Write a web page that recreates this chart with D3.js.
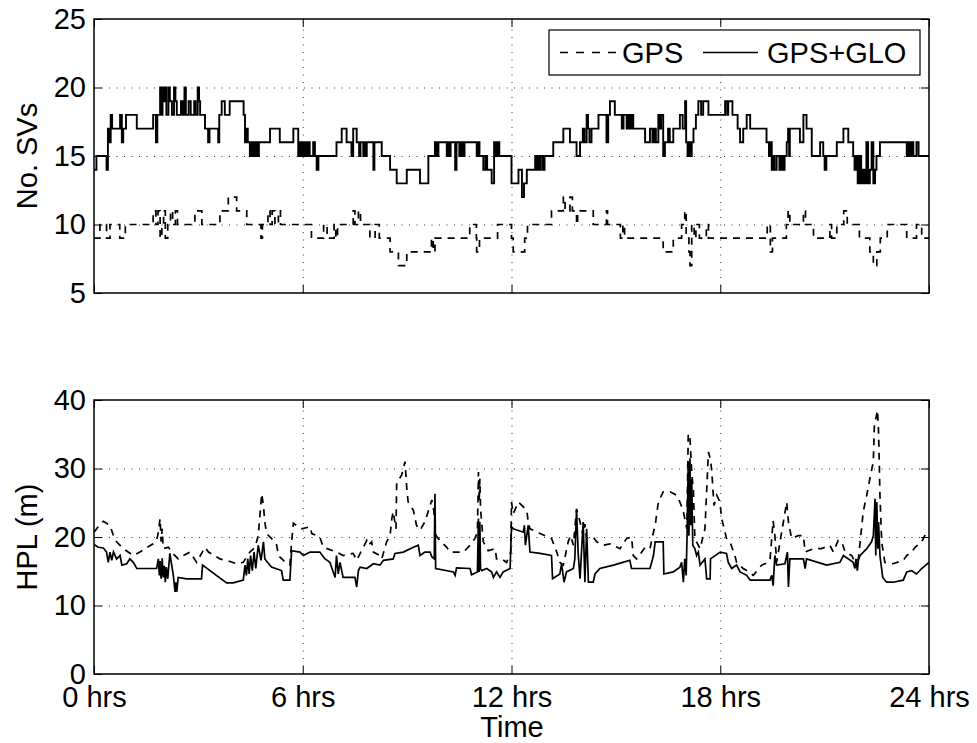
<!DOCTYPE html>
<html>
<head>
<meta charset="utf-8">
<script src="https://cdn.jsdelivr.net/npm/d3@7"></script>
<style>
  body { margin: 0; background: #fff; }
  svg text { font-family: "Liberation Sans", Arial, Helvetica, sans-serif; fill: #000; }
</style>
</head>
<body>
<script>
// satellites visible, step data [hours, count]
var svsGps = [[0,9],[0.17,10],[0.36,9],[0.46,10],[0.74,9],[0.9,10],[1.7,11],[1.78,10],[1.84,11],[1.9,9],[1.95,10],[2.0,11],[2.05,9],[2.12,10],[2.2,11],[2.26,10],[2.34,11],[2.4,10],[2.9,11],[3.1,10],[3.62,11],[3.86,12],[4.1,11],[4.39,10],[4.8,9],[4.84,10],[5.0,11],[5.06,10],[5.12,11],[5.2,10],[5.3,11],[5.36,10],[6.25,9],[6.6,10],[6.7,9],[6.9,10],[6.95,9],[7.0,10],[7.45,11],[7.5,10],[7.6,11],[7.66,10],[7.93,9],[8.08,10],[8.2,9],[8.51,8],[8.75,7],[8.99,8],[9.7,9],[9.75,8],[9.8,9],[10.8,10],[10.99,9],[11.0,8],[11.08,9],[11.6,10],[12.0,9],[12.05,8],[12.38,9],[12.46,10],[13.15,11],[13.49,12],[13.54,11],[13.68,12],[13.75,11],[13.87,10],[13.9,11],[14.1,11],[14.35,10],[14.73,11],[14.76,10],[15.13,9],[15.2,10],[15.25,9],[16.36,8],[16.65,9],[16.89,10],[16.98,11],[17.02,9],[17.1,8],[17.13,7],[17.18,10],[17.25,9],[17.3,10],[17.4,9],[17.6,10],[17.66,9],[19.35,10],[19.44,8],[19.5,9],[19.9,10],[19.95,11],[20.0,10],[20.39,11],[20.45,10],[20.68,9],[21.15,10],[21.2,9],[21.35,10],[21.55,11],[21.65,10],[22.0,9],[22.3,8],[22.4,7],[22.5,8],[22.6,9],[22.8,10],[23.36,9],[23.64,10],[23.79,9],[24,9]];

var svsGlo = [[0,14],[0.07,15],[0.36,14],[0.4,17],[0.45,16],[0.48,18],[0.52,17],[0.75,18],[0.8,16],[0.84,17],[0.92,18],[1.23,17],[1.7,18],[1.78,16],[1.82,18],[1.9,20],[1.93,18],[1.97,20],[2.0,19],[2.04,20],[2.08,18],[2.14,20],[2.18,19],[2.24,18],[2.3,20],[2.34,19],[2.38,18],[2.5,19],[2.55,18],[2.6,20],[2.64,18],[2.72,19],[2.78,18],[2.88,19],[2.92,18],[2.98,20],[3.02,19],[3.05,18],[3.19,17],[3.28,16],[3.32,17],[3.57,16],[3.6,18],[3.67,19],[3.76,18],[3.9,19],[4.3,18],[4.34,16],[4.38,17],[4.42,16],[4.48,15],[4.5,16],[4.55,15],[4.58,16],[4.63,15],[4.66,16],[4.7,15],[4.74,16],[5.06,17],[5.34,16],[5.73,17],[5.87,15],[5.9,16],[5.94,15],[5.98,16],[6.02,15],[6.06,16],[6.1,15],[6.15,16],[6.2,15],[6.3,16],[6.35,15],[6.4,14],[6.45,15],[6.97,16],[7.12,17],[7.26,16],[7.4,15],[7.45,17],[7.55,16],[7.62,15],[7.66,16],[7.74,15],[7.77,16],[7.8,15],[7.84,16],[8.03,14],[8.06,16],[8.27,15],[8.51,14],[8.7,13],[8.99,14],[9.37,13],[9.61,15],[9.8,16],[9.82,15],[9.85,16],[9.88,15],[9.9,16],[10.14,15],[10.17,16],[10.22,15],[10.25,16],[10.38,14],[10.42,16],[10.5,15],[10.55,16],[10.6,15],[10.65,16],[11.0,15],[11.05,16],[11.08,15],[11.19,14],[11.25,15],[11.3,14],[11.43,13],[11.5,16],[11.55,15],[11.6,16],[11.65,15],[12.0,13],[12.2,14],[12.3,12],[12.36,13],[12.44,14],[12.68,15],[12.72,14],[12.76,15],[12.8,14],[12.84,15],[12.9,14],[12.95,15],[13.2,16],[13.49,17],[13.68,16],[13.87,15],[13.97,16],[14.05,17],[14.1,16],[14.16,18],[14.2,17],[14.24,16],[14.3,17],[14.5,18],[14.73,16],[14.78,18],[14.83,19],[14.97,18],[15.17,17],[15.22,18],[15.31,17],[15.36,18],[15.4,17],[15.45,18],[15.5,17],[15.84,16],[15.98,17],[16.05,16],[16.1,17],[16.15,16],[16.22,18],[16.26,17],[16.3,18],[16.36,15],[16.41,16],[16.5,17],[16.55,16],[16.65,17],[16.84,18],[16.92,17],[16.99,19],[17.02,16],[17.06,15],[17.1,16],[17.14,15],[17.18,16],[17.23,17],[17.3,18],[17.37,19],[17.45,18],[17.51,19],[17.66,18],[18.14,19],[18.2,18],[18.23,19],[18.35,18],[18.5,17],[18.57,16],[18.66,17],[18.76,18],[18.86,17],[19.33,16],[19.4,15],[19.45,16],[19.48,14],[19.52,15],[19.56,14],[19.62,15],[19.7,14],[19.75,15],[19.8,14],[19.85,15],[19.91,16],[19.95,17],[19.98,15],[20.0,17],[20.29,16],[20.39,18],[20.48,17],[20.63,15],[20.87,16],[20.96,15],[21.0,14],[21.05,15],[21.35,16],[21.54,17],[21.68,16],[21.82,15],[21.86,14],[21.9,15],[21.95,13],[22.0,15],[22.05,13],[22.1,14],[22.15,13],[22.2,16],[22.25,13],[22.3,14],[22.35,16],[22.4,13],[22.45,14],[22.49,15],[22.59,16],[23.36,15],[23.4,16],[23.45,15],[23.5,16],[23.55,15],[23.64,16],[23.7,15],[24,15]];

// horizontal protection level (m), [hours, metres]
var hplGps = [[0,20.7],[0.12,21.5],[0.27,22.3],[0.46,21.7],[0.56,20.2],[0.65,19.3],[0.84,18.3],[1.13,17.3],[1.32,17.8],[1.47,18.3],[1.7,19.0],[1.8,19.5],[1.85,20.7],[1.9,22.7],[1.93,19.3],[1.96,21.2],[1.99,18.3],[2.14,18.5],[2.23,17.8],[2.42,16.8],[2.57,17.3],[2.76,17.8],[2.95,16.3],[3.19,18.5],[3.29,17.8],[3.62,16.8],[3.86,16.5],[4.1,16.1],[4.29,16.3],[4.48,17.8],[4.63,18.5],[4.72,20.2],[4.82,26.3],[4.87,24.6],[4.91,22.2],[4.96,20.5],[5.1,19.8],[5.25,18.8],[5.3,17.3],[5.54,16.1],[5.63,15.9],[5.68,19.3],[5.73,22.0],[5.97,21.2],[6.21,21.5],[6.26,20.5],[6.49,20.0],[6.59,18.5],[6.97,17.8],[7.16,17.3],[7.45,17.6],[7.55,16.6],[7.84,19.5],[7.89,18.8],[7.98,19.3],[8.03,17.8],[8.22,17.3],[8.27,16.8],[8.41,19.3],[8.51,20.2],[8.56,22.7],[8.6,23.7],[8.68,21.2],[8.7,28.0],[8.84,29.0],[8.94,31.0],[8.99,27.1],[9.03,25.1],[9.18,23.9],[9.27,21.7],[9.37,21.0],[9.51,22.2],[9.66,24.6],[9.71,25.4],[9.77,23.7],[9.83,20.2],[9.94,19.5],[10.14,18.5],[10.23,17.8],[10.62,17.8],[10.81,18.8],[10.95,19.8],[11.02,20.7],[11.05,29.5],[11.07,25.1],[11.09,28.5],[11.11,24.1],[11.19,19.3],[11.33,18.0],[11.53,18.3],[11.57,16.8],[11.72,16.8],[11.86,16.3],[11.98,17.8],[12.0,25.1],[12.05,23.4],[12.2,25.1],[12.44,23.9],[12.48,22.2],[12.53,21.2],[12.82,20.5],[13.06,20.0],[13.15,19.8],[13.3,17.8],[13.39,16.3],[13.49,15.9],[13.63,19.3],[13.7,20.2],[13.78,18.8],[13.87,24.1],[13.92,23.2],[13.97,22.2],[14.06,20.2],[14.11,21.9],[14.16,19.8],[14.35,20.0],[14.45,19.3],[14.64,18.8],[14.83,19.0],[15.12,18.3],[15.31,19.8],[15.45,20.0],[15.5,17.3],[15.6,16.8],[15.84,18.5],[15.98,18.3],[16.08,20.7],[16.13,21.7],[16.22,25.1],[16.36,26.6],[16.56,26.6],[16.75,26.1],[16.84,25.1],[16.94,23.7],[17.04,21.2],[17.08,35.1],[17.13,34.4],[17.18,29.5],[17.23,26.6],[17.27,19.8],[17.42,18.3],[17.56,21.2],[17.66,32.4],[17.71,31.5],[17.75,30.0],[17.82,24.6],[17.9,26.1],[17.99,25.1],[18.04,22.7],[18.09,21.7],[18.18,19.8],[18.28,19.3],[18.42,17.3],[18.47,16.3],[18.66,15.4],[18.76,15.1],[18.95,14.4],[19.19,15.9],[19.29,16.1],[19.43,16.6],[19.52,22.4],[19.57,20.2],[19.62,16.3],[19.91,25.1],[19.96,22.2],[20.05,19.8],[20.24,20.2],[20.39,20.2],[20.44,17.8],[20.68,18.3],[20.91,18.3],[21.15,18.8],[21.25,17.8],[21.39,19.5],[21.49,19.3],[21.59,17.8],[21.78,17.3],[21.87,16.3],[21.97,16.8],[22.11,23.7],[22.21,26.1],[22.3,28.5],[22.4,31.0],[22.43,36.3],[22.52,38.5],[22.55,35.4],[22.57,31.0],[22.59,26.1],[22.64,19.3],[22.73,16.3],[22.97,16.1],[23.26,16.6],[23.36,17.3],[23.5,17.8],[23.6,18.5],[23.79,19.3],[23.93,20.7],[24,21.0]];

var hplGlo = [[0,18.9],[0.12,18.5],[0.27,18.4],[0.36,17.8],[0.41,16.3],[0.46,17.8],[0.51,16.6],[0.56,17.8],[0.65,16.8],[0.75,17.3],[0.8,15.9],[0.94,16.1],[1.03,16.8],[1.13,16.3],[1.23,15.4],[1.8,15.4],[1.85,16.8],[1.88,14.4],[1.9,16.5],[1.93,13.9],[1.96,16.9],[1.99,14.1],[2.02,15.8],[2.05,13.4],[2.08,15.6],[2.12,13.9],[2.18,17.6],[2.28,14.4],[2.33,12.0],[2.36,13.4],[2.38,12.0],[2.42,14.1],[2.66,13.9],[3.09,13.9],[3.12,15.9],[3.81,13.3],[4.0,13.3],[4.29,13.7],[4.34,15.9],[4.38,14.4],[4.42,16.8],[4.46,14.6],[4.5,17.3],[4.55,15.1],[4.6,17.8],[4.65,15.4],[4.72,18.8],[4.8,16.6],[4.87,19.3],[4.91,16.8],[5.1,15.6],[5.39,15.1],[5.44,13.7],[5.63,13.7],[5.68,18.0],[5.92,17.8],[6.02,17.3],[6.21,17.8],[6.49,17.8],[6.64,16.8],[6.78,16.3],[6.93,14.1],[6.97,17.3],[7.02,14.6],[7.07,16.3],[7.16,14.1],[7.5,14.1],[7.55,12.7],[7.6,15.1],[7.65,15.6],[7.84,15.4],[8.03,16.1],[8.22,15.9],[8.32,16.6],[8.6,16.8],[8.65,17.6],[8.89,17.8],[9.18,18.5],[9.32,18.8],[9.37,17.3],[9.51,17.8],[9.66,17.8],[9.71,17.1],[9.78,16.8],[9.8,26.3],[9.82,15.4],[10.33,14.9],[10.38,14.4],[10.42,15.5],[10.81,15.4],[10.85,14.5],[11.02,14.9],[11.05,22.7],[11.07,14.9],[11.09,22.2],[11.11,15.4],[11.14,15.1],[11.29,15.4],[11.43,14.9],[11.48,14.1],[11.57,14.9],[11.67,14.1],[11.76,14.9],[11.96,15.4],[12.0,21.5],[12.05,21.2],[12.34,20.7],[12.37,21.7],[12.4,18.8],[12.48,21.7],[12.53,17.8],[12.82,17.6],[13.15,17.3],[13.18,13.9],[13.39,14.6],[13.44,16.1],[13.51,13.4],[13.58,14.9],[13.78,15.4],[13.82,16.8],[13.87,23.9],[13.92,17.3],[13.97,13.9],[14.06,22.2],[14.11,13.4],[14.16,21.2],[14.21,13.4],[14.35,13.4],[14.4,14.6],[14.54,15.4],[14.93,15.9],[15.2,16.3],[15.4,16.6],[15.45,15.4],[15.98,15.4],[16.03,16.3],[16.08,17.3],[16.13,19.3],[16.36,19.3],[16.38,14.6],[16.65,14.9],[16.84,15.6],[16.89,16.3],[16.94,13.4],[16.98,16.8],[17.02,14.4],[17.05,21.2],[17.08,31.0],[17.1,20.2],[17.13,31.5],[17.15,21.7],[17.18,28.5],[17.21,18.8],[17.27,18.3],[17.32,17.3],[17.37,17.8],[17.42,15.9],[17.56,16.8],[17.61,13.9],[17.71,13.9],[17.72,16.8],[18.0,17.8],[18.18,17.6],[18.23,16.3],[18.33,15.4],[18.47,15.9],[18.57,14.9],[18.76,14.4],[18.86,13.7],[19.43,13.7],[19.48,14.4],[19.52,12.9],[19.57,17.3],[19.62,15.9],[19.86,16.1],[19.93,17.8],[19.96,12.7],[20.0,16.8],[20.39,16.8],[20.44,15.4],[20.48,16.8],[21.06,15.9],[21.44,16.3],[21.54,17.3],[21.82,16.3],[21.87,15.4],[21.9,16.8],[21.94,15.1],[21.97,16.6],[22.02,17.3],[22.21,18.3],[22.35,19.3],[22.4,20.2],[22.45,25.6],[22.47,17.3],[22.5,25.1],[22.53,18.3],[22.55,22.2],[22.59,17.3],[22.67,14.1],[22.78,13.4],[22.97,13.4],[23.26,13.7],[23.36,14.9],[23.5,15.1],[23.64,14.6],[23.79,15.4],[24,16.3]];

var xTicks = [0, 6, 12, 18, 24];
var xTickLabels = ['0 hrs', '6 hrs', '12 hrs', '18 hrs', '24 hrs'];
var svsTicks = [5, 10, 15, 20, 25];
var hplTicks = [0, 10, 20, 30, 40];

var fontSize = 29;
var svg = d3.select('body').append('svg').attr('width', 977).attr('height', 743);

var left = 94, right = 929;
var x = d3.scaleLinear().domain([0, 24]).range([left, right]);

// draw one panel, returns the y scale
var makePanel = function (pTop, pBottom, yDomain, yTicks, showXLabels) {
  var y = d3.scaleLinear().domain(yDomain).range([pBottom, pTop]);
  var g = svg.append('g');
  var w = right - left, h = pBottom - pTop;

  // dotted grid
  g.append('g').attr('transform', 'translate(0,' + pBottom + ')')
    .call(d3.axisBottom(x).tickValues(xTicks.slice(1, -1)).tickSize(-h).tickFormat(''))
    .call(function (s) { s.select('.domain').remove(); })
    .selectAll('line').attr('stroke', '#333').attr('stroke-dasharray', '1,6.5');
  g.append('g').attr('transform', 'translate(' + left + ',0)')
    .call(d3.axisLeft(y).tickValues(yTicks.slice(1, -1)).tickSize(-w).tickFormat(''))
    .call(function (s) { s.select('.domain').remove(); })
    .selectAll('line').attr('stroke', '#333').attr('stroke-dasharray', '1,6.5');

  // inward ticks on four sides
  var ax = [
    g.append('g').attr('transform', 'translate(' + left + ',0)')
      .call(d3.axisLeft(y).tickValues(yTicks).tickSizeInner(-8).tickSizeOuter(0).tickPadding(8)),
    g.append('g').attr('transform', 'translate(' + right + ',0)')
      .call(d3.axisRight(y).tickValues(yTicks).tickSizeInner(-8).tickSizeOuter(0).tickFormat('')),
    g.append('g').attr('transform', 'translate(0,' + pTop + ')')
      .call(d3.axisTop(x).tickValues(xTicks).tickSizeInner(-8).tickSizeOuter(0).tickFormat('')),
    g.append('g').attr('transform', 'translate(0,' + pBottom + ')')
      .call(d3.axisBottom(x).tickValues(xTicks).tickSizeInner(-8).tickSizeOuter(0).tickPadding(12)
        .tickFormat(function (d, i) { return showXLabels ? xTickLabels[i] : ''; }))
  ];
  ax.forEach(function (a) {
    a.select('.domain').remove();
    a.selectAll('line').attr('stroke', '#000').attr('stroke-width', 1);
    a.selectAll('text').style('font-size', fontSize + 'px')
      .style('font-family', '"Liberation Sans", Arial, Helvetica, sans-serif').attr('fill', '#000');
  });

  g.append('rect').attr('x', left).attr('y', pTop).attr('width', w).attr('height', h)
    .attr('fill', 'none').attr('stroke', '#000').attr('stroke-width', 1.5);

  g.append('clipPath').attr('id', 'clip' + pTop).append('rect')
    .attr('x', left).attr('y', pTop).attr('width', w).attr('height', h);
  return { y: y, g: g, clip: 'url(#clip' + pTop + ')' };
};

var svsPanel = makePanel(19, 293, [5, 25], svsTicks, false);
var hplPanel = makePanel(400, 674, [0, 40], hplTicks, true);

// step lines for satellite count
var stepLine = d3.line().x(function (d) { return x(d[0]); }).y(function (d) { return svsPanel.y(d[1]); }).curve(d3.curveStepAfter);
svsPanel.g.append('path').datum(svsGps).attr('d', stepLine).attr('fill', 'none')
  .attr('stroke', '#000').attr('stroke-width', 1.7).attr('stroke-dasharray', '7,6').attr('clip-path', svsPanel.clip);
svsPanel.g.append('path').datum(svsGlo).attr('d', stepLine).attr('fill', 'none')
  .attr('stroke', '#000').attr('stroke-width', 1.9).attr('clip-path', svsPanel.clip);

var hplLine = d3.line().x(function (d) { return x(d[0]); }).y(function (d) { return hplPanel.y(d[1]); });
hplPanel.g.append('path').datum(hplGps).attr('d', hplLine).attr('fill', 'none')
  .attr('stroke', '#000').attr('stroke-width', 1.7).attr('stroke-dasharray', '7,6').attr('clip-path', hplPanel.clip);
hplPanel.g.append('path').datum(hplGlo).attr('d', hplLine).attr('fill', 'none')
  .attr('stroke', '#000').attr('stroke-width', 1.7).attr('clip-path', hplPanel.clip);

// axis titles
svg.append('text').attr('transform', 'translate(37,156) rotate(-90)').attr('text-anchor', 'middle')
  .style('font-size', fontSize + 'px').text('No. SVs');
svg.append('text').attr('transform', 'translate(37,537) rotate(-90)').attr('text-anchor', 'middle')
  .style('font-size', fontSize + 'px').text('HPL (m)');
svg.append('text').attr('x', 512).attr('y', 737).attr('text-anchor', 'middle')
  .style('font-size', fontSize + 'px').text('Time');

// legend
var lg = svg.append('g');
lg.append('rect').attr('x', 549).attr('y', 30).attr('width', 371).attr('height', 45)
  .attr('fill', '#fff').attr('stroke', '#000').attr('stroke-width', 1.2);
lg.append('line').attr('x1', 560).attr('x2', 617).attr('y1', 52.5).attr('y2', 52.5)
  .attr('stroke', '#000').attr('stroke-width', 1.6).attr('stroke-dasharray', '8,8');
lg.append('text').attr('x', 622).attr('y', 63).style('font-size', fontSize + 'px').text('GPS');
lg.append('line').attr('x1', 703).attr('x2', 758).attr('y1', 52.5).attr('y2', 52.5)
  .attr('stroke', '#000').attr('stroke-width', 1.6);
lg.append('text').attr('x', 767).attr('y', 63).style('font-size', fontSize + 'px').text('GPS+GLO');
</script>
</body>
</html>
